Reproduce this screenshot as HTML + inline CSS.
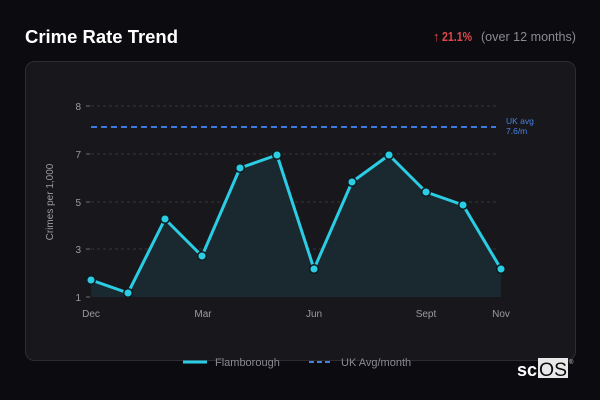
<!DOCTYPE html>
<html><head><meta charset="utf-8"><style>
html,body{margin:0;padding:0;background:#0c0b10;width:600px;height:400px;overflow:hidden}
svg{display:block;font-family:"Liberation Sans",sans-serif}
</style></head><body>
<svg width="600" height="400" viewBox="0 0 600 400">
<rect width="600" height="400" fill="#0c0b10"/>
<text x="25" y="43" font-size="18" font-weight="bold" fill="#ffffff" textLength="153" lengthAdjust="spacingAndGlyphs">Crime Rate Trend</text>
<text x="433" y="41" font-size="13" fill="#e04848">↑</text>
<text x="442" y="41" font-size="13" font-weight="bold" fill="#e04848" textLength="30" lengthAdjust="spacingAndGlyphs">21.1%</text>
<text x="481" y="41" font-size="13" fill="#8a8a90" textLength="95" lengthAdjust="spacingAndGlyphs">(over 12 months)</text>
<rect x="25.5" y="61.5" width="550" height="299" rx="9" fill="#18181c" stroke="#2c2c32" stroke-width="1"/>
<g stroke="#34343a" stroke-width="1" stroke-dasharray="3,3">
<line x1="91" y1="106" x2="496" y2="106"/>
<line x1="91" y1="154" x2="496" y2="154"/>
<line x1="91" y1="202" x2="496" y2="202"/>
<line x1="91" y1="249" x2="496" y2="249"/>
</g>
<g stroke="#6a6a70" stroke-width="1">
<line x1="86" y1="106" x2="90" y2="106"/>
<line x1="86" y1="154" x2="90" y2="154"/>
<line x1="86" y1="202" x2="90" y2="202"/>
<line x1="86" y1="249" x2="90" y2="249"/>
<line x1="86" y1="297" x2="90" y2="297"/>
</g>
<g font-size="10" fill="#9a9aa0" text-anchor="end">
<text x="81" y="110">8</text>
<text x="81" y="158">7</text>
<text x="81" y="206">5</text>
<text x="81" y="253">3</text>
<text x="81" y="301">1</text>
</g>
<text transform="translate(53,202) rotate(-90)" font-size="10" fill="#9a9aa0" text-anchor="middle">Crimes per 1,000</text>
<g font-size="10" fill="#9a9aa0" text-anchor="middle">
<text x="91" y="317">Dec</text>
<text x="203" y="317">Mar</text>
<text x="314" y="317">Jun</text>
<text x="426" y="317">Sept</text>
<text x="501" y="317">Nov</text>
</g>
<path d="M91,280 L128,293 L165,219 L202,256 L240,168 L277,155 L314,269 L352,182 L389,155 L426,192 L463,205 L501,269 L501,297 L91,297 Z" fill="#19292f"/>
<line x1="91" y1="127" x2="496" y2="127" stroke="#3d7ae0" stroke-width="2" stroke-dasharray="6,4"/>
<text x="506" y="124" font-size="8.5" fill="#4a80e0">UK avg</text>
<text x="506" y="134" font-size="8.5" fill="#4a80e0">7.6/m</text>
<polyline points="91,280 128,293 165,219 202,256 240,168 277,155 314,269 352,182 389,155 426,192 463,205 501,269" fill="none" stroke="#2bcde4" stroke-width="3" stroke-linejoin="round"/>
<g fill="#2bcde4" stroke="#0e1a1e" stroke-width="1.5">
<circle cx="91" cy="280" r="4.3"/><circle cx="128" cy="293" r="4.3"/><circle cx="165" cy="219" r="4.3"/><circle cx="202" cy="256" r="4.3"/>
<circle cx="240" cy="168" r="4.3"/><circle cx="277" cy="155" r="4.3"/><circle cx="314" cy="269" r="4.3"/><circle cx="352" cy="182" r="4.3"/>
<circle cx="389" cy="155" r="4.3"/><circle cx="426" cy="192" r="4.3"/><circle cx="463" cy="205" r="4.3"/><circle cx="501" cy="269" r="4.3"/>
</g>
<line x1="183" y1="362" x2="207" y2="362" stroke="#2bcde4" stroke-width="3"/>
<text x="215" y="366" font-size="11" fill="#8a8a90">Flamborough</text>
<line x1="309" y1="362" x2="333" y2="362" stroke="#4a80e0" stroke-width="2" stroke-dasharray="5,3"/>
<text x="341" y="366" font-size="11" fill="#8a8a90">UK Avg/month</text>
<text x="517" y="376" font-size="18" font-weight="bold" fill="#ffffff">sc</text>
<rect x="538" y="358" width="30" height="20" fill="#e8e8e8"/>
<text x="539" y="376" font-size="19" fill="#0c0b10" textLength="28" lengthAdjust="spacingAndGlyphs">OS</text>
<text x="569" y="364" font-size="6" fill="#cccccc">®</text>
</svg>
</body></html>
